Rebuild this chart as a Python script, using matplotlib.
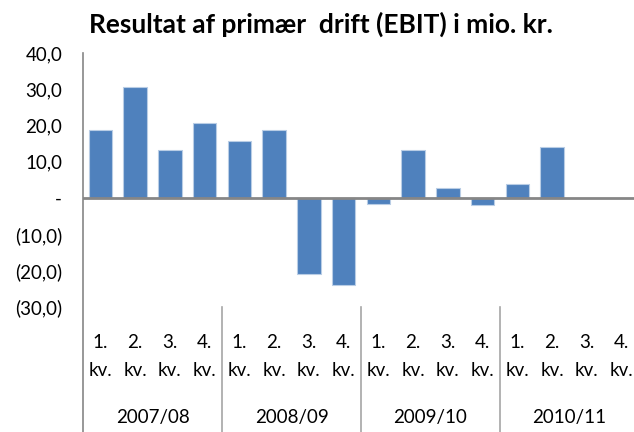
import matplotlib.pyplot as plt
import matplotlib.transforms as mtransforms
import numpy as np

# data (mio. kr.)
quarters = ['1.', '2.', '3.', '4.'] * 4
years = ['2007/08', '2008/09', '2009/10', '2010/11']
ebit = [18.7, 30.7, 13.4, 20.6,
        15.7, 18.8, -20.8, -23.8,
        -1.5, 13.4, 2.9, -1.9,
        4.0, 14.2, np.nan, np.nan]
yticks = [-30, -20, -10, 0, 10, 20, 30, 40]

plt.rcParams['font.family'] = ['Lato', 'DejaVu Sans']

W, H = 634, 432
fig = plt.figure(figsize=(W / 100, H / 100), dpi=100)

# axes placed in pixel coordinates like the original Excel layout
left, right, top, bottom = 83, 639, 53, 307
ax = fig.add_axes([left / W, 1 - bottom / H, (right - left) / W, (bottom - top) / H])

x = np.arange(len(ebit))
ax.bar(x, ebit, width=0.68, color='#4F81BD', edgecolor='#B9CDE5', linewidth=0.8, zorder=2)

ax.set_xlim(-0.5, len(ebit) - 0.5)
ax.set_ylim(-30, 40)
ax.set_yticks(yticks)


def fmt(v):
    if v == 0:
        return '-'
    if v < 0:
        return '(%.1f)' % (-v)
    return '%.1f' % v


ax.set_yticklabels([fmt(v).replace('.', ',') for v in yticks])
ax.tick_params(axis='y', length=0, pad=15, labelsize=13.5, colors='black')
ax.set_xticks([])

for s in ['top', 'right', 'bottom', 'left']:
    ax.spines[s].set_visible(False)

grey = '#868686'
ax.axhline(0, color=grey, lw=2, zorder=3)

# extended vertical axis line down through the category labels
ybot = -(H - bottom) / (bottom - top)
ax.plot([0, 0], [1, ybot], transform=ax.transAxes, color=grey, lw=1.2, clip_on=False)

trans = mtransforms.blended_transform_factory(ax.transData, ax.transAxes)
for g in range(1, 4):
    xs = g * 4 - 0.5
    ax.plot([xs, xs], [0, ybot], transform=trans, color='#A6A6A6', lw=1.2, clip_on=False)

y1 = -(343 - bottom) / (bottom - top)
y2 = -(370 - bottom) / (bottom - top)
y3 = -(418 - bottom) / (bottom - top)
for i, q in enumerate(quarters):
    ax.text(i, y1, q, transform=trans, ha='center', va='center', fontsize=13.5)
    ax.text(i, y2, 'kv.', transform=trans, ha='center', va='center', fontsize=13.5)
for g, yr in enumerate(years):
    ax.text(g * 4 + 1.5, y3, yr, transform=trans, ha='center', va='center', fontsize=13.5)

fig.text(321 / W, 1 - 24 / H, 'Resultat af primær  drift (EBIT) i mio. kr.',
         ha='center', va='center', fontsize=19, fontweight='bold')

fig.savefig('out.png', dpi=100)
